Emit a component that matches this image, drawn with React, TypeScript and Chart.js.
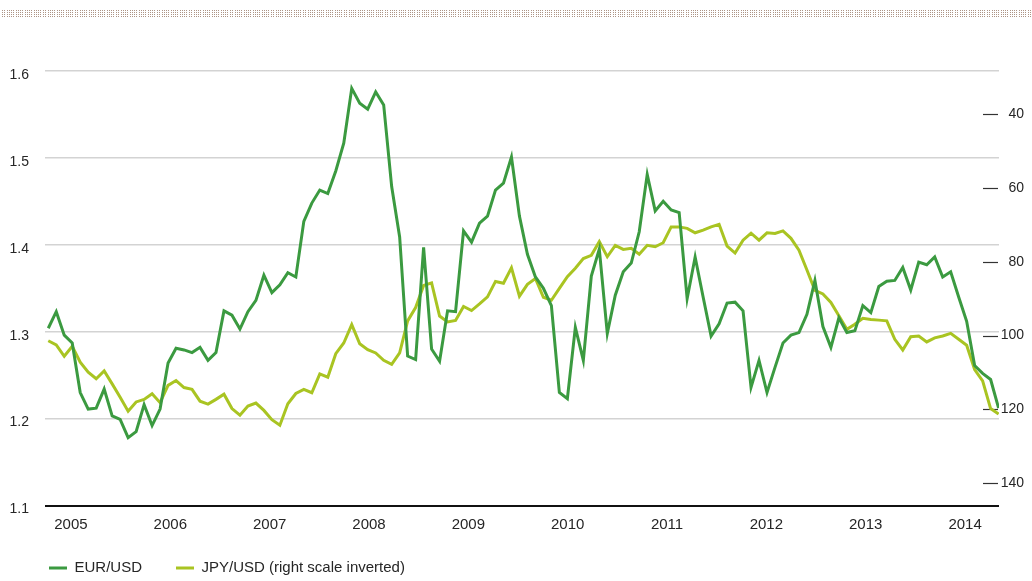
import React, { useEffect, useRef } from 'react';
import { Chart, registerables } from 'chart.js';

Chart.register(...registerables);

const EUR_USD = [
  1.304, 1.323, 1.296, 1.287, 1.230, 1.211, 1.212, 1.234, 1.203, 1.199,
  1.178, 1.185, 1.216, 1.192, 1.211, 1.264, 1.281, 1.279, 1.276, 1.282,
  1.267, 1.276, 1.324, 1.319, 1.303, 1.323, 1.336, 1.365, 1.345, 1.354,
  1.368, 1.363, 1.427, 1.448, 1.463, 1.459, 1.485, 1.517, 1.580, 1.563,
  1.556, 1.576, 1.561, 1.467, 1.409, 1.272, 1.268, 1.397, 1.280, 1.266,
  1.324, 1.323, 1.416, 1.403, 1.425, 1.433, 1.463, 1.471, 1.501, 1.433,
  1.389, 1.363, 1.350, 1.330, 1.230, 1.223, 1.305, 1.267, 1.364, 1.395,
  1.298, 1.342, 1.369, 1.379, 1.415, 1.481, 1.439, 1.450, 1.440, 1.437,
  1.338, 1.386, 1.340, 1.295, 1.309, 1.333, 1.334, 1.324, 1.236, 1.267,
  1.230, 1.259, 1.287, 1.296, 1.299, 1.320, 1.359, 1.306, 1.282, 1.316,
  1.299, 1.301, 1.330, 1.322, 1.352, 1.358, 1.359, 1.374, 1.348, 1.380,
  1.377, 1.386, 1.363, 1.369, 1.340, 1.312, 1.261, 1.252, 1.245, 1.212,
];

const JPY_USD = [
  101.4, 102.5, 105.6, 102.9, 107.2, 109.9, 111.7, 109.6, 113.1, 116.7,
  120.5, 118.0, 117.3, 115.8, 118.2, 113.5, 112.2, 114.1, 114.6, 117.8,
  118.6, 117.3, 115.9, 119.8, 121.6, 119.1, 118.3, 120.3, 122.8, 124.3,
  118.5, 115.7, 114.6, 115.5, 110.4, 111.3, 104.9, 102.0, 97.0, 102.2,
  103.8, 104.7, 106.7, 107.8, 104.7, 96.0, 92.4, 86.4, 85.7, 94.7,
  96.3, 95.9, 92.1, 93.2, 91.4, 89.5, 85.3, 85.8, 81.6, 89.3,
  86.1, 84.5, 89.6, 90.4, 87.2, 84.0, 81.7, 79.1, 78.2, 74.5,
  78.6, 75.5, 76.6, 76.3, 77.9, 75.5, 75.9, 74.8, 70.5, 70.5,
  70.9, 72.1, 71.4, 70.5, 69.8, 75.7, 77.6, 74.1, 72.2, 74.1,
  72.1, 72.3, 71.6, 73.6, 76.8, 82.2, 87.7, 88.7, 91.0, 94.6,
  98.3, 96.9, 95.3, 95.6, 95.8, 96.0, 101.0, 103.9, 100.3, 100.1,
  101.7, 100.6, 100.1, 99.4, 101.0, 102.6, 109.2, 112.3, 119.8, 121.3,
];

const YEAR_LABELS = ['2005', '2006', '2007', '2008', '2009', '2010', '2011', '2012', '2013', '2014'];
const LEFT_TICKS = [1.1, 1.2, 1.3, 1.4, 1.5, 1.6];
const RIGHT_TICKS = [40, 60, 80, 100, 120, 140];

const FIRST_YEAR_POS = 2.84;
const YEAR_STEP = 12.44;

const FONT = '"Liberation Sans", Arial, sans-serif';
const EUR_COLOR = '#3b9a40';
const JPY_COLOR = '#a9c422';
const TEXT_COLOR = '#262626';

export default function App() {
  const ref = useRef<HTMLCanvasElement>(null);

  useEffect(() => {
    const canvas = ref.current;
    if (!canvas) return;

    const topBand = {
      id: 'topBand',
      beforeDraw(chart: any) {
        const ctx = chart.ctx;
        ctx.save();
        ctx.fillStyle = '#ad9485';
        for (let x = 2; x < chart.width; x += 4.56) {
          const xi = Math.round(x);
          for (const row of [10, 12, 14, 16]) {
            ctx.fillRect(xi, row, 1, 1);
            ctx.fillRect(xi + 2, row, 1, 1);
          }
        }
        ctx.restore();
      },
    };

    const rightDashes = {
      id: 'rightDashes',
      beforeDatasetsDraw(chart: any) {
        const ctx = chart.ctx;
        const scale = chart.scales.y1;
        const right = chart.chartArea.right;
        ctx.save();
        ctx.strokeStyle = '#333';
        ctx.lineWidth = 1.2;
        for (const t of scale.ticks) {
          const y = Math.round(scale.getPixelForValue(t.value)) + 0.5;
          ctx.beginPath();
          ctx.moveTo(right - 16, y);
          ctx.lineTo(right - 1, y);
          ctx.stroke();
        }
        ctx.restore();
      },
    };

    // nudge the legend to where the reference places it
    const legendShift = {
      id: 'legendShift',
      afterLayout(chart: any) {
        const lg = chart.legend;
        if (lg) {
          lg.left += 15;
          lg.right += 15;
          lg.top -= 4.5;
          lg.bottom -= 4.5;
        }
      },
    };

    const isBase = (ctx: any) => ctx.tick && Math.abs(ctx.tick.value - LEFT_TICKS[0]) < 1e-6;

    const chart = new Chart(canvas, {
      type: 'line',
      data: {
        datasets: [
          {
            label: 'EUR/USD',
            data: EUR_USD.map((v, i) => ({ x: i, y: v })),
            borderColor: EUR_COLOR,
            backgroundColor: EUR_COLOR,
            borderWidth: 3,
            pointRadius: 0,
            tension: 0,
            yAxisID: 'y',
          },
          {
            label: 'JPY/USD (right scale inverted)',
            data: JPY_USD.map((v, i) => ({ x: i, y: v })),
            borderColor: JPY_COLOR,
            backgroundColor: JPY_COLOR,
            borderWidth: 3,
            pointRadius: 0,
            tension: 0,
            yAxisID: 'y1',
          },
        ],
      },
      options: {
        animation: false,
        responsive: false,
        maintainAspectRatio: false,
        layout: { padding: { top: 71, right: 8, left: 0, bottom: 0 } },
        plugins: {
          legend: {
            position: 'bottom',
            align: 'start',
            labels: {
              usePointStyle: true,
              pointStyle: 'line',
              pointStyleWidth: 18,
              padding: 34,
              color: TEXT_COLOR,
              font: { family: FONT, size: 15 },
            },
          },
          tooltip: { enabled: false },
        },
        scales: {
          x: {
            type: 'linear',
            min: -0.41,
            max: 119.05,
            grid: { display: false, drawTicks: false },
            border: { display: false },
            afterBuildTicks: (s: any) => {
              s.ticks = YEAR_LABELS.map((_, k) => ({ value: FIRST_YEAR_POS + k * YEAR_STEP }));
            },
            afterFit: (s: any) => {
              s.height = 25.5;
            },
            ticks: {
              autoSkip: false,
              maxRotation: 0,
              padding: 10,
              color: TEXT_COLOR,
              font: { family: FONT, size: 15 },
              callback: (_v: any, idx: number) => YEAR_LABELS[idx],
            },
          },
          y: {
            position: 'left',
            min: 1.1,
            max: 1.6,
            border: { display: false },
            grid: {
              drawTicks: false,
              color: (ctx: any) => (isBase(ctx) ? '#111111' : '#d3d3d3'),
              lineWidth: (ctx: any) => (isBase(ctx) ? 2 : 1.5),
            },
            afterBuildTicks: (s: any) => {
              s.ticks = LEFT_TICKS.map((v) => ({ value: v }));
            },
            afterFit: (s: any) => {
              s.width = 45;
            },
            ticks: {
              padding: 16,
              labelOffset: 4,
              color: TEXT_COLOR,
              font: { family: FONT, size: 14 },
              callback: (v: any) => Number(v).toFixed(1),
            },
          },
          y1: {
            position: 'right',
            reverse: true,
            min: 28.2,
            max: 146.1,
            border: { display: false },
            grid: { display: false },
            afterBuildTicks: (s: any) => {
              s.ticks = RIGHT_TICKS.map((v) => ({ value: v }));
            },
            afterFit: (s: any) => {
              s.width = 25;
            },
            ticks: {
              crossAlign: 'far',
              padding: 4,
              color: TEXT_COLOR,
              font: { family: FONT, size: 14 },
              callback: (v: any) => String(v),
            },
          },
        },
      },
      plugins: [topBand, rightDashes, legendShift],
    } as any);

    return () => chart.destroy();
  }, []);

  return (
    <div style={{ position: 'fixed', left: 0, top: 0, width: 1032, height: 590, background: '#fff' }}>
      <canvas ref={ref} width={1032} height={590} style={{ display: 'block' }} />
    </div>
  );
}
